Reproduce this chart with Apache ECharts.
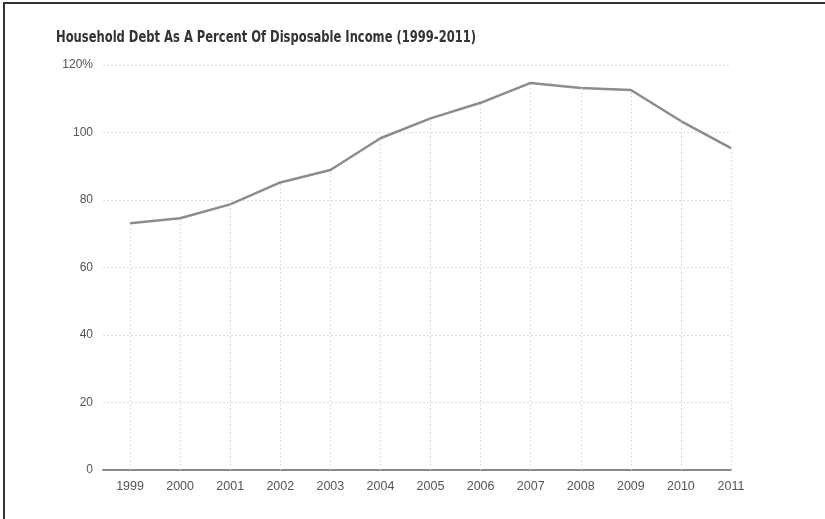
<!DOCTYPE html>
<html>
<head>
<meta charset="utf-8">
<script src="https://cdn.jsdelivr.net/npm/echarts@6/dist/echarts.min.js"></script>
<style>
  html, body { margin: 0; padding: 0; background: #fff; }
  #frame {
    position: absolute; left: 3px; top: 2px; width: 830px; height: 530px;
    border-left: 2px solid #333; border-top: 2px solid #333; box-sizing: border-box;
  }
  #chart { position: absolute; left: 0; top: 0; width: 825px; height: 519px; }
</style>
</head>
<body>
<div id="frame"></div>
<div id="chart"></div>
<script>
// 연도와 값 (가처분소득 대비 가계부채 %)
const years = [1999, 2000, 2001, 2002, 2003, 2004, 2005, 2006, 2007, 2008, 2009, 2010, 2011];
const debtPct = [73.1, 74.6, 78.7, 85.2, 88.9, 98.3, 104.2, 108.8, 114.7, 113.2, 112.6, 103.4, 95.4];
const yTicks = [0, 20, 40, 60, 80, 100, 120];

const chartTitle = "Household Debt As A Percent Of Disposable Income (1999-2011)";
const labelFont = '"Liberation Sans", Arial, sans-serif';

const chart = echarts.init(document.getElementById("chart"));

const option = {
  animation: false,
  // 제목은 좁은 글꼴 느낌을 내려고 가로로 살짝 눌러서 그림
  graphic: [
    {
      type: "text",
      x: 56,
      y: 38,
      scaleX: 0.855,
      style: {
        text: chartTitle,
        fontFamily: '"DejaVu Sans Condensed", "DejaVu Sans", sans-serif',
        fontWeight: "bold",
        fontSize: 15,
        fill: "#333",
        verticalAlign: "middle",
      },
    },
  ],
  grid: { left: 103, right: 94, top: 65, bottom: 49 },
  xAxis: {
    type: "value",
    min: 1998.46,
    max: 2011,
    axisLine: { show: true, lineStyle: { color: "#888", width: 2 } },
    axisTick: { show: false },
    splitLine: { show: false },
    axisLabel: {
      customValues: years,
      formatter: (v) => String(v),
      color: "#555",
      fontSize: 12.5,
      fontFamily: labelFont,
      margin: 10,
    },
  },
  yAxis: {
    type: "value",
    min: 0,
    max: 120,
    interval: 20,
    axisLine: { show: false },
    axisTick: { show: false },
    axisLabel: {
      color: "#555",
      fontSize: 12,
      fontFamily: labelFont,
      margin: 10,
      formatter: (v) => (v === yTicks[yTicks.length - 1] ? v + "%" : String(v)),
    },
    splitLine: { lineStyle: { color: "#ddd", type: [2, 2] } },
  },
  series: [
    {
      type: "line",
      data: years.map((y, i) => [y, debtPct[i]]),
      symbol: "none",
      lineStyle: { color: "#8c8c8c", width: 2.5 },
      markLine: {
        silent: true,
        symbol: "none",
        label: { show: false },
        lineStyle: { color: "#ddd", type: [2, 2], width: 1 },
        data: years.map((y, i) => [
          { coord: [y, 0] },
          { coord: [y, debtPct[i]] },
        ]),
      },
    },
  ],
};

chart.setOption(option);
</script>
</body>
</html>
